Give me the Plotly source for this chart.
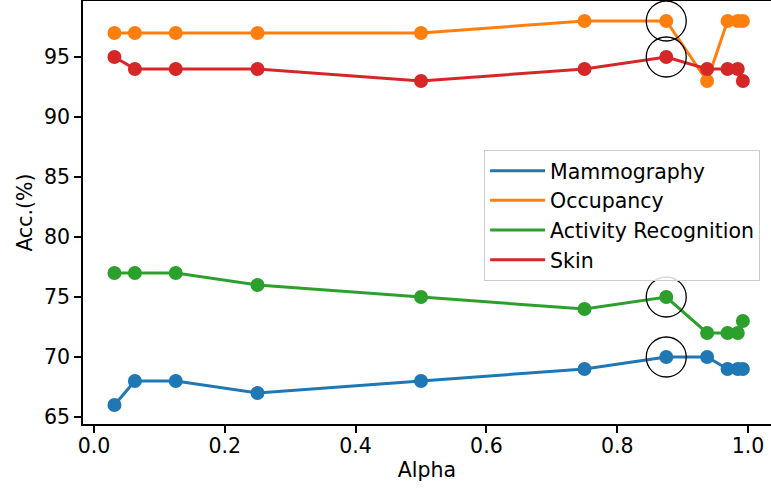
import plotly.graph_objects as go

alpha = [1/32, 1/16, 1/8, 1/4, 1/2, 3/4, 7/8, 15/16, 31/32, 63/64, 127/128]
series_names = ["Mammography", "Occupancy", "Activity Recognition", "Skin"]
mammography = [66, 68, 68, 67, 68, 69, 70, 70, 69, 69, 69]
occupancy = [97, 97, 97, 97, 97, 98, 98, 93, 98, 98, 98]
activity = [77, 77, 77, 76, 75, 74, 75, 72, 72, 72, 73]
skin = [95, 94, 94, 94, 93, 94, 95, 94, 94, 94, 93]
colors = ["#1f77b4", "#ff7f0e", "#2ca02c", "#d62728"]
highlight_x = [7/8, 7/8, 7/8, 7/8]
highlight_y = [98, 95, 75, 70]
x_ticks = [0.0, 0.2, 0.4, 0.6, 0.8, 1.0]
y_ticks = [65, 70, 75, 80, 85, 90, 95]

fig = go.Figure()
for name, vals, col in zip(series_names, [mammography, occupancy, activity, skin], colors):
    fig.add_trace(go.Scatter(x=alpha, y=vals, mode="lines", name=name,
                             line=dict(color=col, width=3), legendgroup=name))
    fig.add_trace(go.Scatter(x=alpha, y=vals, mode="markers", showlegend=False,
                             marker=dict(color=col, size=14), legendgroup=name))

fig.add_trace(go.Scatter(x=highlight_x, y=highlight_y, mode="markers", showlegend=False,
                         marker=dict(symbol="circle-open", size=40, color="black",
                                     line=dict(width=1.3, color="black"))))

FS = 20.5
font = dict(family="DejaVu Sans", size=FS, color="black")
fig.update_layout(
    width=771, height=494,
    margin=dict(l=83, r=0, t=1, b=70),
    plot_bgcolor="white", paper_bgcolor="white",
    font=font,
    showlegend=True,
    legend=dict(x=0.583, y=0.648, xanchor="left", yanchor="top",
                bgcolor="rgba(255,255,255,0.85)", bordercolor="#cccccc", borderwidth=1,
                font=font, itemwidth=55, tracegroupgap=0),
)
fig.update_xaxes(range=[-0.01682, 1.03517], tickvals=x_ticks,
                 ticktext=[f"{v:.1f}" for v in x_ticks], tickfont=font, automargin=False,
                 showgrid=False, zeroline=False, showline=True, linecolor="black",
                 linewidth=1.5, mirror=True, ticks="outside", ticklen=7, tickwidth=1.5,
                 tickcolor="black", ticklabelstandoff=-4,
                 title=dict(text="Alpha", standoff=5, font=font))
fig.update_yaxes(range=[64.417, 99.667], tickvals=y_ticks, tickfont=font, automargin=False,
                 showgrid=False, zeroline=False, showline=True, linecolor="black",
                 linewidth=1.5, ticks="outside", ticklen=7, tickwidth=1.5,
                 tickcolor="black", title=dict(text="Acc.(%)", standoff=6, font=font))

fig.write_html("out.html", config={"displayModeBar": False},
               post_script="document.body.style.margin='0';")
